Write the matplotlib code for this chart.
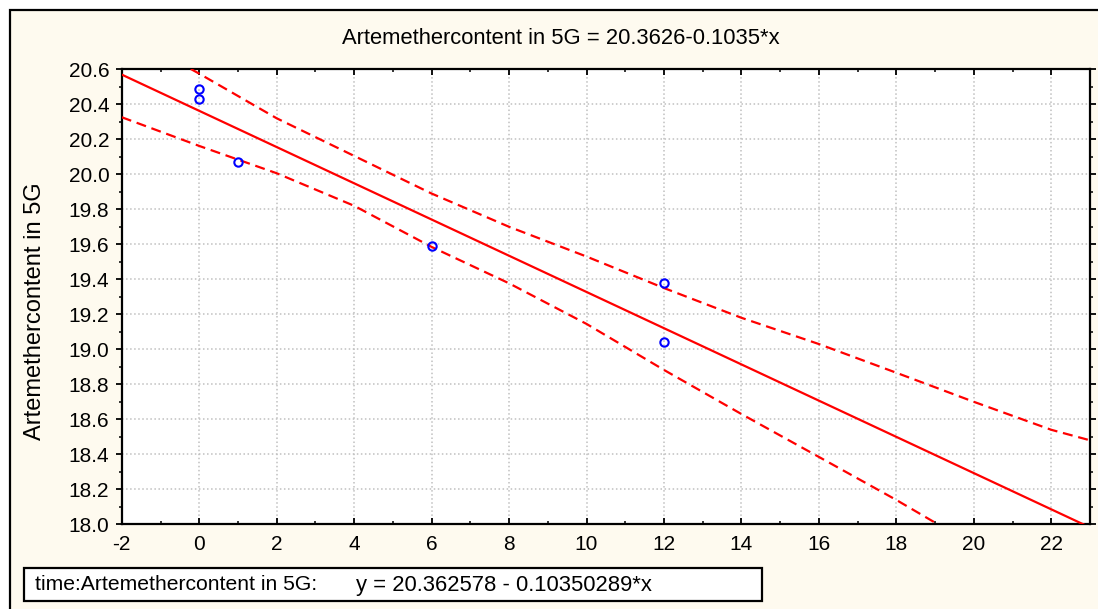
import numpy as np
import matplotlib.pyplot as plt
from matplotlib.patches import Rectangle
from matplotlib.ticker import MultipleLocator, FormatStrFormatter

# observations
time_x = [0, 0, 1, 6, 12, 12]
content_y = [20.49, 20.43, 20.07, 19.59, 19.38, 19.04]

# fitted model (from the chart's own equation)
intercept = 20.362578
slope = -0.10350289

# 95% confidence band
band_x = [-2, 0, 2, 4, 6, 8, 10, 12, 14, 16, 18, 20, 22, 23]
band_upper = [20.82, 20.575, 20.32, 20.105, 19.89, 19.70, 19.53, 19.35,
              19.18, 19.03, 18.866, 18.70, 18.54, 18.48]
band_lower = [20.326, 20.162, 20.006, 19.82, 19.585, 19.377, 19.145, 18.882,
              18.63, 18.385, 18.139, 17.88, 17.63, 17.50]

title_text = "Artemethercontent in 5G = 20.3626-0.1035*x"
ylabel_text = "Artemethercontent in 5G"
footer_left = "time:Artemethercontent in 5G:"
footer_eq = "y = 20.362578 - 0.10350289*x"

W, H = 1098, 609
plt.rcParams['font.family'] = ['Liberation Sans', 'DejaVu Sans']
plt.rcParams['axes.unicode_minus'] = False

fig = plt.figure(figsize=(W / 100, H / 100), dpi=100)
fig.patch.set_facecolor('white')

# cream panel with black frame
fig.patches.append(Rectangle((10 / W, -0.05), 1.1, 1 - 10 / H + 0.05,
                             transform=fig.transFigure, facecolor='#fefaef',
                             edgecolor='black', linewidth=1.6, zorder=-5))

ax = fig.add_axes([121.8 / W, 1 - 524.3 / H, (1090 - 121.8) / W, (524.3 - 69.3) / H])
ax.set_zorder(1)
ax.set_facecolor('white')

dash = (0, (4.5, 2.6))
xs = np.array([-2, 23])
ax.plot(xs, intercept + slope * xs, color='red', lw=1.6, zorder=3)
ax.plot(band_x, band_upper, color='red', lw=1.6, ls=dash, zorder=3)
ax.plot(band_x, band_lower, color='red', lw=1.6, ls=dash, zorder=3)
ax.plot(time_x, content_y, 'o', mfc='none', mec='blue', mew=1.5, ms=6, zorder=4)

ax.set_xlim(-2, 23)
ax.set_ylim(18.0, 20.6)
ax.xaxis.set_major_locator(MultipleLocator(2))
ax.xaxis.set_minor_locator(MultipleLocator(1))
ax.yaxis.set_major_locator(MultipleLocator(0.2))
ax.yaxis.set_minor_locator(MultipleLocator(0.1))
ax.yaxis.set_major_formatter(FormatStrFormatter('%.1f'))

ax.grid(True, which='major', color='#c0c0c0', ls=':', lw=1.1)
ax.set_axisbelow(True)
for s in ax.spines.values():
    s.set_linewidth(1.6)

ax.tick_params(axis='x', which='both', direction='in', top=True, bottom=True,
               labelsize=15, pad=8)
ax.tick_params(axis='y', which='both', direction='out', left=True, right=True,
               labelsize=15, pad=5)
ax.tick_params(which='major', length=4, width=1.3)
ax.tick_params(which='minor', length=2.5, width=1.1)

fig.text(35 / W, 1 - 311 / H, ylabel_text, fontsize=17, rotation=90,
         ha='center', va='center')

fig.text(561 / W, 1 - 38 / H, title_text, fontsize=15.8, ha='center', va='center')

fig.patches.append(Rectangle((24 / W, 1 - 601 / H), (762 - 24) / W, 33 / H,
                             transform=fig.transFigure, facecolor='white',
                             edgecolor='black', linewidth=1.6, zorder=2))
fig.text(35 / W, 1 - 585 / H, footer_left, fontsize=15.2, ha='left', va='center', zorder=3)
fig.text(356 / W, 1 - 585 / H, footer_eq, fontsize=15.8, ha='left', va='center', zorder=3)

fig.savefig('out.png', dpi=100, facecolor=fig.get_facecolor())
